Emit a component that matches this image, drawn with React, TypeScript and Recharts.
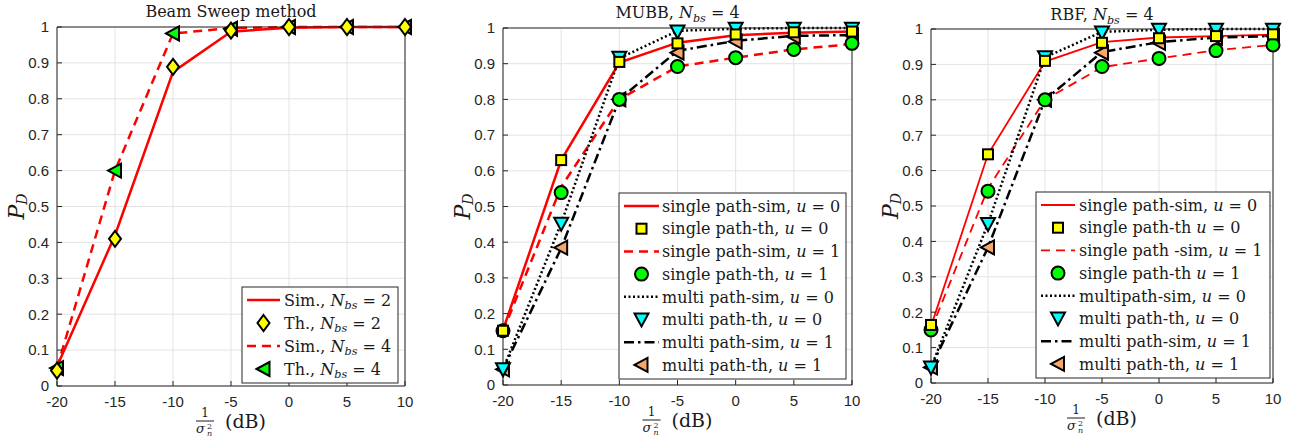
import React from 'react';
import { ComposedChart, Line, XAxis, YAxis, CartesianGrid } from 'recharts';

const snrDb = [-20, -15, -10, -5, 0, 5, 10];
const pdTicks = [0, 0.1, 0.2, 0.3, 0.4, 0.5, 0.6, 0.7, 0.8, 0.9, 1];

// Beam Sweep method
const bsSimN2 = [0.054, 0.42, 0.875, 0.987, 0.998, 1, 1];
const bsThN2 = [0.043, 0.41, 0.889, 0.99, 1, 1, 1];
const bsSimN4 = [0.05, 0.6, 0.982, 0.997, 1, 1, 1];
const bsThN4 = [0.05, 0.6, 0.982, 0.995, 1, 1, 1];

// MUBB, Nbs = 4
const mubbSpSimU0 = [0.154, 0.63, 0.903, 0.959, 0.98, 0.987, 0.99];
const mubbSpThU0 = [0.152, 0.63, 0.905, 0.957, 0.982, 0.988, 0.99];
const mubbSpSimU1 = [0.15, 0.555, 0.8, 0.892, 0.917, 0.94, 0.955];
const mubbSpThU1 = [0.152, 0.539, 0.8, 0.892, 0.917, 0.94, 0.957];
const mubbMpSimU0 = [0.044, 0.453, 0.915, 0.992, 0.998, 1, 1];
const mubbMpThU0 = [0.044, 0.452, 0.917, 0.99, 0.998, 0.998, 0.998];
const mubbMpSimU1 = [0.044, 0.383, 0.8, 0.936, 0.964, 0.978, 0.98];
const mubbMpThU1 = [0.044, 0.385, 0.8, 0.931, 0.962, 0.976, 0.98];

// RBF, Nbs = 4
const rbfSpSimU0 = [0.16, 0.646, 0.908, 0.963, 0.976, 0.98, 0.984];
const rbfSpThU0 = [0.164, 0.646, 0.91, 0.961, 0.974, 0.98, 0.985];
const rbfSpSimU1 = [0.15, 0.55, 0.8, 0.892, 0.917, 0.94, 0.955];
const rbfSpThU1 = [0.15, 0.542, 0.8, 0.894, 0.917, 0.939, 0.955];
const rbfMpSimU0 = [0.044, 0.45, 0.92, 0.992, 0.998, 1, 1];
const rbfMpThU0 = [0.044, 0.449, 0.92, 0.99, 0.998, 0.998, 0.998];
const rbfMpSimU1 = [0.044, 0.383, 0.8, 0.935, 0.963, 0.976, 0.98];
const rbfMpThU1 = [0.044, 0.383, 0.8, 0.933, 0.961, 0.975, 0.98];

const SERIF = '"DejaVu Serif", "Liberation Serif", serif';
const SANS = '"Liberation Sans", Arial, sans-serif';
const INK = '#262626';

type Mk = 'diamond' | 'left' | 'down' | 'square' | 'circle';
interface Lbl { pre: string; sym?: string; sub?: string; val?: string }
interface SeriesDef {
  id: string;
  values: number[];
  label: Lbl;
  color?: string;
  width?: number;
  dash?: string;
  marker?: Mk;
  fill?: string;
}

function Marker({ kind, x, y, fill }: { kind: Mk; x: number; y: number; fill?: string }) {
  const p = { fill, stroke: '#000', strokeWidth: 2 };
  if (kind === 'diamond') return <polygon points={`${x},${y - 8} ${x + 6},${y} ${x},${y + 8} ${x - 6},${y}`} {...p} />;
  if (kind === 'left') return <polygon points={`${x - 7},${y} ${x + 6},${y - 7} ${x + 6},${y + 7}`} {...p} />;
  if (kind === 'down') return <polygon points={`${x - 7},${y - 6} ${x + 7},${y - 6} ${x},${y + 7}`} {...p} />;
  if (kind === 'square') return <rect x={x - 5} y={y - 5} width={10} height={10} {...p} />;
  return <circle cx={x} cy={y} r={6.5} {...p} />;
}

function MathText({ lbl, x, y, size, anchor = 'start' }: { lbl: Lbl; x: number; y: number; size: number; anchor?: string }) {
  const sh = size * 0.22;
  return (
    <text x={x} y={y} fontFamily={SERIF} fontSize={size} fill="#1a1a1a" textAnchor={anchor}>
      {lbl.pre}
      {lbl.sym && <tspan fontStyle="italic">{lbl.sym}</tspan>}
      {lbl.sub && (
        <tspan fontStyle="italic" fontSize={size * 0.7} dy={sh}>
          {lbl.sub}
        </tspan>
      )}
      {lbl.val && <tspan dy={lbl.sub ? -sh : 0}>{' = ' + lbl.val}</tspan>}
    </text>
  );
}

function XLabel(props: any) {
  const vb = props.viewBox || {};
  const cx = vb.x + vb.width / 2;
  const y0 = vb.y;
  const fx = cx - 26;
  return (
    <g fill="#1a1a1a" fontFamily={SERIF}>
      <text x={fx} y={y0 + 31} textAnchor="middle" fontSize={12}>1</text>
      <line x1={fx - 9} x2={fx + 9} y1={y0 + 35} y2={y0 + 35} stroke="#1a1a1a" strokeWidth={1} />
      <text x={fx - 9} y={y0 + 47} fontSize={13} fontStyle="italic">σ</text>
      <text x={fx + 2} y={y0 + 43} fontSize={8}>2</text>
      <text x={fx + 2} y={y0 + 50} fontSize={8} fontStyle="italic">n</text>
      <text x={cx - 6} y={y0 + 42} fontSize={19}>(dB)</text>
    </g>
  );
}

function YLabel(props: any) {
  const vb = props.viewBox || {};
  const x0 = vb.x + 4;
  const cy = vb.y + vb.height / 2;
  return (
    <text
      x={x0}
      y={cy}
      transform={`rotate(-90, ${x0}, ${cy})`}
      textAnchor="middle"
      dominantBaseline="central"
      fontFamily={SERIF}
      fill="#1a1a1a"
      fontSize={22}
    >
      <tspan fontStyle="italic">P</tspan>
      <tspan fontStyle="italic" fontSize={14} dy={6}>D</tspan>
    </text>
  );
}

interface LegendCfg { x: number; y: number; w: number; h: number; row0: number; gap: number; s1: number; s2: number; tx: number; fs: number }

function LegendBox({ cfg, series }: { cfg: LegendCfg; series: SeriesDef[] }) {
  return (
    <g>
      <rect x={cfg.x} y={cfg.y} width={cfg.w} height={cfg.h} fill="#fff" stroke={INK} strokeWidth={1} />
      {series.map((s, i) => {
        const cy = cfg.row0 + i * cfg.gap;
        return (
          <g key={s.id}>
            {s.color && (
              <line x1={cfg.s1} x2={cfg.s2} y1={cy} y2={cy} stroke={s.color} strokeWidth={s.width} strokeDasharray={s.dash} />
            )}
            {s.marker && <Marker kind={s.marker} x={(cfg.s1 + cfg.s2) / 2} y={cy} fill={s.fill} />}
            <MathText lbl={s.label} x={cfg.tx} y={cy + cfg.fs * 0.36} size={cfg.fs} />
          </g>
        );
      })}
    </g>
  );
}

interface PanelProps {
  left: number;
  width: number;
  plot: { left: number; right: number; top: number; bottom: number };
  title: Lbl;
  titleY: number;
  series: SeriesDef[];
  order: string[];
  legend: LegendCfg;
}

function Panel({ left, width, plot, title, titleY, series, order, legend }: PanelProps) {
  const yAxisW = 45;
  const xAxisH = 40;
  const margin = {
    top: plot.top,
    right: width - plot.right,
    bottom: 440 - plot.bottom - xAxisH,
    left: plot.left - yAxisW,
  };
  const data = snrDb.map((x, i) => {
    const row: Record<string, number> = { x };
    series.forEach((s) => (row[s.id] = s.values[i]));
    return row;
  });
  const lines = series.filter((s) => s.color);
  const marks = order.map((id) => series.find((s) => s.id === id)!).filter((s) => s && s.marker);
  const tickStyle = { fill: INK, fontSize: 15, fontFamily: SANS };

  return (
    <div style={{ position: 'absolute', left, top: 0, width, height: 440 }}>
      <ComposedChart width={width} height={440} data={data} margin={margin}>
        <CartesianGrid stroke="#e3e3e3" strokeWidth={1} />
        <XAxis
          dataKey="x"
          type="number"
          domain={[-20, 10]}
          ticks={snrDb}
          interval={0}
          height={xAxisH}
          tick={tickStyle}
          tickSize={-5}
          tickMargin={15}
          stroke={INK}
          label={(p: any) => <XLabel {...p} />}
        />
        <XAxis xAxisId="t" orientation="top" dataKey="x" type="number" domain={[-20, 10]} ticks={snrDb} interval={0} mirror tick={false} tickSize={5} stroke={INK} />
        <YAxis
          type="number"
          domain={[0, 1]}
          ticks={pdTicks}
          interval={0}
          width={yAxisW}
          tick={tickStyle}
          tickSize={-5}
          tickMargin={13}
          stroke={INK}
          label={(p: any) => <YLabel {...p} />}
        />
        <YAxis yAxisId="r" orientation="right" type="number" domain={[0, 1]} ticks={pdTicks} interval={0} mirror tick={false} tickSize={5} stroke={INK} />
        {lines.map((s) => (
          <Line
            key={s.id}
            dataKey={s.id}
            stroke={s.color}
            strokeWidth={s.width}
            strokeDasharray={s.dash}
            dot={false}
            activeDot={false}
            isAnimationActive={false}
          />
        ))}
        {marks.map((s) => (
          <Line
            key={s.id}
            dataKey={s.id}
            stroke="none"
            dot={(p: any) => <Marker key={`${s.id}-${p.index}`} kind={s.marker!} x={p.cx} y={p.cy} fill={s.fill} />}
            activeDot={false}
            isAnimationActive={false}
          />
        ))}
      </ComposedChart>
      <svg width={width} height={440} style={{ position: 'absolute', left: 0, top: 0, pointerEvents: 'none' }}>
        <MathText lbl={title} x={(plot.left + plot.right) / 2} y={titleY} size={16} anchor="middle" />
        <LegendBox cfg={legend} series={series} />
      </svg>
    </div>
  );
}

const RED = '#ff0000';
const BLK = '#000000';
const DASH = '9 6';
const DOT = '2 2.5';
const DASHDOT = '10 4 2.5 4';

const bsSeries: SeriesDef[] = [
  { id: 'simN2', values: bsSimN2, label: { pre: 'Sim., ', sym: 'N', sub: 'bs', val: '2' }, color: RED, width: 2.5 },
  { id: 'thN2', values: bsThN2, label: { pre: 'Th., ', sym: 'N', sub: 'bs', val: '2' }, marker: 'diamond', fill: '#ffff00' },
  { id: 'simN4', values: bsSimN4, label: { pre: 'Sim., ', sym: 'N', sub: 'bs', val: '4' }, color: RED, width: 2.5, dash: DASH },
  { id: 'thN4', values: bsThN4, label: { pre: 'Th., ', sym: 'N', sub: 'bs', val: '4' }, marker: 'left', fill: '#00ff00' },
];

function pathSeries(v: number[][], labels: string[], redW: number): SeriesDef[] {
  return [
    { id: 'spSimU0', values: v[0], label: { pre: labels[0], sym: 'u', val: '0' }, color: RED, width: redW },
    { id: 'spThU0', values: v[1], label: { pre: labels[1], sym: 'u', val: '0' }, marker: 'square', fill: '#ffff00' },
    { id: 'spSimU1', values: v[2], label: { pre: labels[2], sym: 'u', val: '1' }, color: RED, width: redW, dash: DASH },
    { id: 'spThU1', values: v[3], label: { pre: labels[3], sym: 'u', val: '1' }, marker: 'circle', fill: '#00ff00' },
    { id: 'mpSimU0', values: v[4], label: { pre: labels[4], sym: 'u', val: '0' }, color: BLK, width: 2.5, dash: DOT },
    { id: 'mpThU0', values: v[5], label: { pre: labels[5], sym: 'u', val: '0' }, marker: 'down', fill: '#00ffff' },
    { id: 'mpSimU1', values: v[6], label: { pre: labels[6], sym: 'u', val: '1' }, color: BLK, width: 2.5, dash: DASHDOT },
    { id: 'mpThU1', values: v[7], label: { pre: labels[7], sym: 'u', val: '1' }, marker: 'left', fill: '#f5a86a' },
  ];
}

const mubbLabels = [
  'single path-sim, ',
  'single path-th, ',
  'single path-sim, ',
  'single path-th, ',
  'multi path-sim, ',
  'multi path-th, ',
  'multi path-sim, ',
  'multi path-th, ',
];
const rbfLabels = [
  'single path-sim, ',
  'single path-th ',
  'single path -sim, ',
  'single path-th ',
  'multipath-sim, ',
  'multi path-th, ',
  'multi path-sim, ',
  'multi path-th, ',
];

const mubbSeries = pathSeries(
  [mubbSpSimU0, mubbSpThU0, mubbSpSimU1, mubbSpThU1, mubbMpSimU0, mubbMpThU0, mubbMpSimU1, mubbMpThU1],
  mubbLabels,
  2.5
);
const rbfSeries = pathSeries(
  [rbfSpSimU0, rbfSpThU0, rbfSpSimU1, rbfSpThU1, rbfMpSimU0, rbfMpThU0, rbfMpSimU1, rbfMpThU1],
  rbfLabels,
  1.8
);
const markOrder = ['mpThU1', 'mpThU0', 'spThU1', 'spThU0'];

export default function App() {
  return (
    <div style={{ position: 'absolute', left: 0, top: 0, width: 1294, height: 440, background: '#fff' }}>
      <Panel
        left={0}
        width={430}
        plot={{ left: 57, right: 405, top: 27, bottom: 386 }}
        title={{ pre: 'Beam Sweep method' }}
        titleY={17}
        series={bsSeries}
        order={['thN4', 'thN2']}
        legend={{ x: 242, y: 287, w: 156, h: 96, row0: 300, gap: 23, s1: 247, s2: 280, tx: 284, fs: 16 }}
      />
      <Panel
        left={430}
        width={430}
        plot={{ left: 73, right: 422, top: 28, bottom: 385 }}
        title={{ pre: 'MUBB, ', sym: 'N', sub: 'bs', val: '4' }}
        titleY={18}
        series={mubbSeries}
        order={markOrder}
        legend={{ x: 189, y: 193, w: 227, h: 186, row0: 206, gap: 22.7, s1: 194, s2: 229, tx: 232, fs: 16 }}
      />
      <Panel
        left={860}
        width={434}
        plot={{ left: 71, right: 413, top: 29, bottom: 383 }}
        title={{ pre: 'RBF, ', sym: 'N', sub: 'bs', val: '4' }}
        titleY={20}
        series={rbfSeries}
        order={markOrder}
        legend={{ x: 176, y: 192, w: 234, h: 186, row0: 205, gap: 22.7, s1: 181, s2: 215, tx: 219, fs: 16 }}
      />
    </div>
  );
}
